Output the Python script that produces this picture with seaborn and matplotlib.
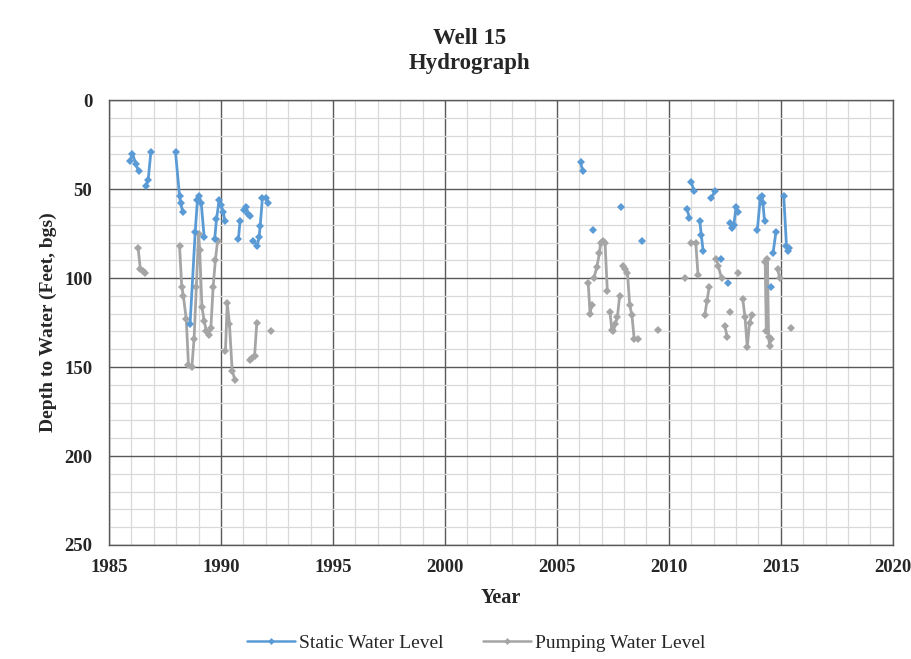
import numpy as np
import pandas as pd
import matplotlib
matplotlib.use('Agg')
import matplotlib.pyplot as plt
from matplotlib.ticker import MultipleLocator
from matplotlib.lines import Line2D
import seaborn as sns

# Static water level: (year, depth) with segment id for gaps
static_year = [1985.95, 1986.05, 1986.2, 1986.32,
               1986.65, 1986.75, 1986.87,
               1987.97, 1988.15, 1988.2, 1988.3,
               1988.62, 1988.85, 1988.95, 1989.03, 1989.12, 1989.25,
               1989.72, 1989.8, 1989.92, 1990.0, 1990.1, 1990.18,
               1990.78, 1990.85,
               1991.05, 1991.12, 1991.22, 1991.3,
               1991.45, 1991.62, 1991.7, 1991.75, 1991.85, 1992.0, 1992.12,
               2006.06, 2006.15,
               2006.6,
               2007.86,
               2008.82,
               2010.8, 2010.92,
               2011.0, 2011.12,
               2011.38, 2011.45, 2011.53,
               2011.9, 2012.05,
               2012.33,
               2012.65,
               2012.75, 2012.82, 2012.9, 2013.0, 2013.1,
               2013.95, 2014.08, 2014.15, 2014.2, 2014.27,
               2014.58,
               2014.65, 2014.78,
               2015.13, 2015.25, 2015.3, 2015.38]
static_depth = [34, 30, 36, 40,
                48, 45, 29,
                29, 54, 58, 63,
                126, 74, 56, 54, 58, 77,
                78, 67, 56, 59, 63, 68,
                78, 68,
                62, 60, 64, 65,
                79, 82, 77, 71, 55, 55, 58,
                35, 40,
                73,
                60,
                79,
                61, 66,
                46, 51,
                68, 76, 85,
                55, 51,
                89,
                103,
                69, 72, 70, 60, 63,
                73, 55, 54, 58, 68,
                105,
                86, 74,
                54, 82, 85, 83]
static_seg = [0, 0, 0, 0,
              1, 1, 1,
              2, 2, 2, 2,
              3, 3, 3, 3, 3, 3,
              4, 4, 4, 4, 4, 4,
              5, 5,
              6, 6, 6, 6,
              7, 7, 7, 7, 7, 7, 7,
              8, 8,
              9,
              10,
              11,
              12, 12,
              13, 13,
              14, 14, 14,
              15, 15,
              16,
              17,
              18, 18, 18, 18, 18,
              19, 19, 19, 19, 19,
              20,
              21, 21,
              22, 22, 22, 22]

# Pumping water level
pump_year = [1986.3, 1986.4, 1986.5, 1986.6,
             1988.15, 1988.25, 1988.32, 1988.45, 1988.55, 1988.7, 1988.8, 1988.9,
             1989.0, 1989.05, 1989.15, 1989.25, 1989.35, 1989.45, 1989.55, 1989.65,
             1989.75, 1989.85,
             1990.2, 1990.28, 1990.38, 1990.5, 1990.62,
             1991.3, 1991.4, 1991.5, 1991.6,
             1992.25,
             2006.4, 2006.48, 2006.55,
             2006.65, 2006.78, 2006.9, 2006.95, 2007.05, 2007.15, 2007.25,
             2007.37, 2007.45, 2007.52, 2007.6, 2007.7, 2007.8,
             2007.95, 2008.05, 2008.15, 2008.25, 2008.35, 2008.45, 2008.6,
             2009.5,
             2010.7,
             2010.97, 2011.2, 2011.3,
             2011.6, 2011.7, 2011.8,
             2012.12, 2012.2, 2012.35,
             2012.5, 2012.6,
             2012.72,
             2013.1,
             2013.3, 2013.4, 2013.5, 2013.6, 2013.7,
             2014.3, 2014.35, 2014.4, 2014.45, 2014.5, 2014.55,
             2014.85, 2014.95,
             2015.45]
pump_depth = [83, 95, 96, 97,
              82, 105, 110, 123, 149, 150, 134, 105,
              75, 84, 116, 124, 130, 132, 128, 105,
              90, 79,
              141, 114, 126, 152, 157,
              146, 145, 144, 125,
              130,
              103, 120, 115,
              100, 94, 86, 80, 79, 80, 107,
              119, 129, 130, 126, 122, 110,
              93, 95, 97, 115, 121, 134, 134,
              129,
              100,
              80, 80, 98,
              121, 113, 105,
              89, 93, 100,
              127, 133,
              119,
              97,
              112, 122, 139, 125, 121,
              91, 130, 89, 133, 138, 134,
              95, 100,
              128]
pump_seg = [0, 0, 0, 0,
            1, 1, 1, 1, 1, 1, 1, 1,
            1, 1, 1, 1, 1, 1, 1, 1,
            1, 1,
            2, 2, 2, 2, 2,
            3, 3, 3, 3,
            4,
            5, 5, 5,
            6, 6, 6, 6, 6, 6, 6,
            7, 7, 7, 7, 7, 7,
            8, 8, 8, 8, 8, 8, 8,
            9,
            10,
            11, 11, 11,
            12, 12, 12,
            13, 13, 13,
            14, 14,
            15,
            16,
            17, 17, 17, 17, 17,
            18, 18, 18, 18, 18, 18,
            19, 19,
            20]

BLUE = '#5B9BD5'
GRAY = '#A5A5A5'

sns.set_style('white')
plt.rcParams['font.family'] = ['Liberation Serif', 'DejaVu Serif']

static_df = pd.DataFrame({'Year': static_year, 'Depth': static_depth, 'seg': static_seg})
pump_df = pd.DataFrame({'Year': pump_year, 'Depth': pump_depth, 'seg': pump_seg})

fig = plt.figure(figsize=(9.12, 6.59), dpi=100)
ax = fig.add_axes([0.1195, 0.173, 0.8595, 0.675])

sns.lineplot(data=pump_df, x='Year', y='Depth', units='seg', estimator=None,
             color=GRAY, lw=2, marker='D', markersize=4, markeredgewidth=0,
             ax=ax, legend=False)
sns.lineplot(data=static_df, x='Year', y='Depth', units='seg', estimator=None,
             color=BLUE, lw=2, marker='D', markersize=4, markeredgewidth=0,
             ax=ax, legend=False)

ax.set_xlim(1985, 2020)
ax.set_ylim(250, 0)
ax.xaxis.set_major_locator(MultipleLocator(5))
ax.xaxis.set_minor_locator(MultipleLocator(1))
ax.yaxis.set_major_locator(MultipleLocator(50))
ax.yaxis.set_minor_locator(MultipleLocator(10))
ax.grid(which='minor', color='#d9d9d9', lw=0.9)
ax.grid(which='major', color='#595959', lw=1.0)
ax.set_axisbelow(True)
for s in ax.spines.values():
    s.set_color('#595959')
    s.set_linewidth(1.0)
ax.tick_params(which='both', length=0, labelsize=13.5)
ax.tick_params(axis='x', pad=10)
ax.tick_params(axis='y', pad=12)
for lbl in ax.get_xticklabels() + ax.get_yticklabels():
    lbl.set_fontweight('bold')

ax.set_xlabel('Year', fontsize=14.5, fontweight='bold', labelpad=9)
ax.set_ylabel('Depth to Water (Feet, bgs)', fontsize=14, fontweight='bold', labelpad=5)

fig.text(0.515, 0.942, 'Well 15', ha='center', va='center', fontsize=16.5, fontweight='bold')
fig.text(0.515, 0.903, 'Hydrograph', ha='center', va='center', fontsize=16.5, fontweight='bold')

handles = [Line2D([], [], color=BLUE, lw=1.8, marker='D', markersize=3.5, markeredgewidth=0),
           Line2D([], [], color=GRAY, lw=1.8, marker='D', markersize=3.5, markeredgewidth=0)]
fig.legend(handles, ['Static Water Level', 'Pumping Water Level'], loc='lower center',
           bbox_to_anchor=(0.522, -0.016), ncol=2, frameon=False, fontsize=14,
           handlelength=2.5, columnspacing=2.0, handletextpad=0.2)

fig.savefig('out.png', dpi=100)
plt.close(fig)
